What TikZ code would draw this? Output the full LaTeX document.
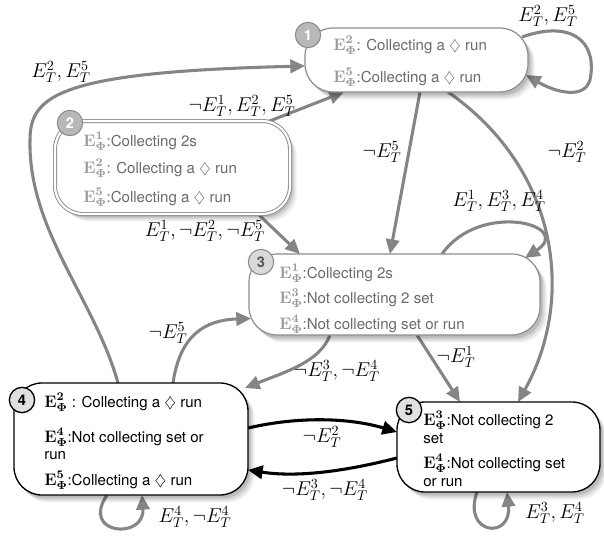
\RequirePackage{fix-cm}
\documentclass[tikz,border=0pt]{standalone}
\usepackage[no-math]{fontspec}
\newfontfamily\hv{TeX Gyre Heros}
\usetikzlibrary{arrows.meta,shadows,calc}
\pgfdeclarelayer{bgl}
\pgfdeclarelayer{edges}
\pgfsetlayers{bgl,edges,main}
\definecolor{edgegray}{gray}{0.52}
\definecolor{boxgray}{gray}{0.55}
\definecolor{txtgray}{gray}{0.42}
\definecolor{egray}{gray}{0.6}
\newcommand{\EPh}[1]{{\fontsize{12.5}{13}\selectfont$\mathbf{E}^{\mathbf{#1}}_{\mathbf{\Phi}}$}}
\newcommand{\gEPh}[1]{\textcolor{egray}{\EPh{#1}}}
\tikzset{
  softshadow/.style={
    general shadow={fill=black, opacity=0.07, shadow xshift=5pt, shadow yshift=-5.5pt},
    general shadow={fill=black, opacity=0.09, shadow xshift=3.5pt, shadow yshift=-4pt},
    general shadow={fill=black, opacity=0.12, shadow xshift=2pt, shadow yshift=-2.5pt}},
  stbox/.style={rounded corners=21pt, fill=white, inner sep=0pt, outer sep=0pt, softshadow},
  graybox/.style={stbox, draw=boxgray, line width=0.9pt},
  blackbox/.style={stbox, draw=black, line width=1pt},
  dblbox/.style={stbox, draw=boxgray, line width=0.7pt, double=white, double distance=1.6pt},
  tline/.style={anchor=base west, inner sep=0pt, font=\hv\fontsize{11.3}{13}\selectfont},
  gline/.style={tline, text=txtgray},
  bline/.style={tline, text=black},
  numg/.style={circle, draw=boxgray, fill=black!28, text=white, line width=0.8pt, minimum size=19pt, inner sep=0pt, font=\hv\bfseries\fontsize{11}{12}\selectfont},
  numb/.style={circle, draw=black, fill=black!12, text=black, line width=1pt, minimum size=19pt, inner sep=0pt, font=\hv\bfseries\fontsize{11}{12}\selectfont},
  tr/.style={draw=edgegray, line width=2.3pt, -{Triangle[length=11pt,width=10pt]}},
  trb/.style={draw=black, line width=2.3pt, -{Triangle[length=11pt,width=10pt]}},
  lbl/.style={inner sep=0pt, font=\fontsize{15}{17}\selectfont},
}
\begin{document}
\begin{tikzpicture}[x=0.75pt,y=-0.75pt]
\useasboundingbox (0,0) rectangle (604,536);
\begin{pgfonlayer}{bgl}
\fill[white] (0,0) rectangle (604,536);
\end{pgfonlayer}

% state boxes
\node[graybox, minimum width=167.25pt, minimum height=48pt] (n1) at (416.5,60) {};
\node[dblbox, minimum width=176.25pt, minimum height=69.75pt] (n2) at (172.5,167.5) {};
\node[graybox, minimum width=218.25pt, minimum height=60.75pt] (n3) at (394.5,294.5) {};
\node[blackbox, minimum width=175.5pt, minimum height=84pt] (n4) at (131,439) {};
\node[blackbox, minimum width=152.25pt, minimum height=67.5pt] (n5) at (498.5,447) {};

% texts
\node[gline] (t1a) at (333,50) {\gEPh{2}: Collecting a $\diamondsuit$ run};
\node[gline] (t1b) at (333,82) {\gEPh{5}:Collecting a $\diamondsuit$ run};
\node[gline] (t2a) at (83,146) {\gEPh{1}:Collecting 2s};
\node[gline] (t2b) at (83,173) {\gEPh{2}: Collecting a $\diamondsuit$ run};
\node[gline] (t2c) at (83,202) {\gEPh{5}:Collecting a $\diamondsuit$ run};
\node[gline] (t3a) at (279,278) {\gEPh{1}:Collecting 2s};
\node[gline] (t3b) at (279,303) {\gEPh{3}:Not collecting 2 set};
\node[gline] (t3c) at (279,329) {\gEPh{4}:Not collecting set or run};
\node[bline] (t4a) at (44,407) {\EPh{2} : Collecting a $\diamondsuit$ run};
\node[bline] (t4b) at (44,442) {\EPh{4}:Not collecting set or};
\node[bline] (t4c) at (44,459) {run};
\node[bline] (t4d) at (44,485) {\EPh{5}:Collecting a $\diamondsuit$ run};
\node[bline] (t5a) at (423,425) {\EPh{3}:Not collecting 2};
\node[bline] (t5b) at (423,443) {set};
\node[bline] (t5c) at (423,468) {\EPh{4}:Not collecting set};
\node[bline] (t5d) at (423,486) {or run};

% number badges
\node[numg] (c1) at (308,35) {1};
\node[numg] (c2) at (70,123) {2};
\node[numg, fill=black!15, text=black!65] (c3) at (261,262) {3};
\node[numb] (c4) at (22,400) {4};
\node[numb] (c5) at (409,410) {5};

% connectors
\begin{pgfonlayer}{edges}
\draw[tr] ($(n2.north east)+(-28,3)$) -- ($(n1.south west)+(39,0)$);
\draw[tr] ($(n4.north west)+(104,0)$) .. controls (95,300) and (28,230) .. (30,140)
          .. controls (30,95) and (60,72) .. ($(n1.west)+(0,6)$);
\draw[tr] ($(n1.north east)+(-6,9)$) .. controls (570,20) and (598,40) .. (590,80)
          .. controls (584,100) and (555,92) .. ($(n1.east)+(-2,15)$);
\draw[tr] ($(n1.south)+(3.5,0)$) -- ($(n3.north)+(-4.5,0)$);
\draw[tr] ($(n1.south)+(31.5,0)$) .. controls (560,170) and (575,300) .. ($(n5.north)+(19.5,0)$);
\draw[tr] ($(n2.south east)+(-32,0)$) -- ($(n3.north west)+(51,0)$);
\draw[tr] ($(n3.north)+(47.5,0)$) .. controls (480,200) and (575,225) .. ($(n3.north east)+(-15,4)$);
\draw[tr] ($(n3.south west)+(81,0)$) .. controls (320,362) and (285,372) .. ($(n4.north east)+(-3,5)$);
\draw[tr] ($(n3.south)+(22.5,0)$) -- ($(n5.north west)+(63,0)$);
\draw[tr] ($(n4.north west)+(159,0)$) .. controls (180,335) and (205,320) .. ($(n3.west)+(2,24)$);
\draw[trb] ($(n4.east)+(0,-11)$) .. controls (300,416) and (350,418) .. ($(n5.west)+(0,-15)$);
\draw[trb] ($(n5.west)+(0,11)$) .. controls (350,470) and (300,478) .. ($(n4.east)+(0,31)$);
\draw[tr] ($(n4.south)+(-24,0)$) .. controls (80,535) and (145,540) .. ($(n4.south)+(11,0)$);
\draw[tr] ($(n5.south)+(-21.5,0)$) .. controls (462,535) and (512,540) .. ($(n5.south)+(8.5,0)$);
\end{pgfonlayer}

% labels
\node[lbl] (l1) at (548,16) {$E^2_T, E^5_T$};
\node[lbl] (l2) at (61,72) {$E^2_T, E^5_T$};
\node[lbl] (l3) at (242,106) {$\neg E^1_T, E^2_T, E^5_T$};
\node[lbl] (l4) at (382,152) {$\neg E^5_T$};
\node[lbl] (l5) at (567,152) {$\neg E^2_T$};
\node[lbl] (l6) at (205,231) {$E^1_T, \neg E^2_T, \neg E^5_T$};
\node[lbl] (l7) at (499,201) {$E^1_T, E^3_T, E^4_T$};
\node[lbl] (l8) at (168,333) {$\neg E^5_T$};
\node[lbl] (l9) at (337,371) {$\neg E^3_T, \neg E^4_T$};
\node[lbl] (l10) at (456,357) {$\neg E^1_T$};
\node[lbl] (l11) at (322,437) {$\neg E^2_T$};
\node[lbl] (l12) at (325,490) {$\neg E^3_T, \neg E^4_T$};
\node[lbl] (l13) at (195,517) {$E^4_T, \neg E^4_T$};
\node[lbl] (l14) at (555,513) {$E^3_T, E^4_T$};
\end{tikzpicture}
\end{document}
